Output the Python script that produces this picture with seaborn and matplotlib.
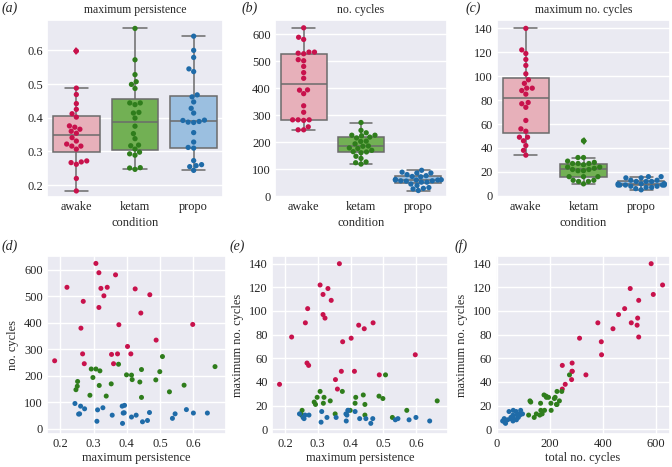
import matplotlib
matplotlib.use("Agg")
import matplotlib.pyplot as plt
import seaborn as sns
import pandas as pd

# ---- data ----
conditions = ["awake", "ketam", "propo"]

awake_mp = [0.183, 0.220, 0.262, 0.267, 0.269, 0.272, 0.307, 0.316, 0.316, 0.322, 0.331, 0.341,
            0.354, 0.360, 0.366, 0.372, 0.376, 0.402, 0.412, 0.425, 0.442, 0.469, 0.488, 0.598]
awake_nc = [257, 534, 380, 283, 481, 246, 624, 589, 458, 530, 502, 534,
            281, 246, 581, 283, 393, 311, 283, 528, 437, 506, 335, 394]
awake_mx = [38, 78, 90, 56, 102, 54, 122, 114, 97, 94, 119, 109,
            42, 34, 140, 49, 74, 77, 49, 88, 85, 90, 46, 63]

ketam_mp = [0.247, 0.251, 0.252, 0.289, 0.293, 0.298, 0.307, 0.317, 0.319, 0.338, 0.353, 0.375,
            0.399, 0.414, 0.416, 0.439, 0.444, 0.444, 0.487, 0.499, 0.507, 0.528, 0.572, 0.665]
ketam_nc = [148, 161, 179, 127, 226, 194, 226, 164, 219, 124, 170, 244,
            204, 203, 186, 177, 224, 119, 185, 216, 273, 140, 165, 235]
ketam_mx = [13, 12, 16, 23, 21, 27, 32, 22, 27, 24, 13, 32,
            16, 22, 27, 29, 21, 12, 28, 26, 46, 10, 16, 24]

propo_mp = [0.244, 0.255, 0.258, 0.261, 0.273, 0.310, 0.312, 0.328, 0.356, 0.386, 0.387, 0.389,
            0.392, 0.393, 0.414, 0.428, 0.447, 0.462, 0.468, 0.537, 0.545, 0.579, 0.600, 0.642]
propo_nc = [96, 56, 57, 86, 76, 29, 72, 80, 52, 86, 21, 60,
            61, 89, 45, 52, 27, 32, 62, 40, 57, 73, 60, 60]
propo_mx = [13, 10, 9, 12, 12, 6, 15, 10, 10, 13, 7, 12,
            16, 16, 15, 9, 9, 5, 9, 8, 9, 8, 10, 7]

box_colors = ["#F0A7B4", "#6CBF45", "#8FC0EC"]
point_colors = ["#C8124C", "#2F7D1C", "#1F6BA8"]

df = pd.DataFrame({
    "condition": ["awake"] * len(awake_mp) + ["ketam"] * len(ketam_mp) + ["propo"] * len(propo_mp),
    "mp": awake_mp + ketam_mp + propo_mp,
    "nc": awake_nc + ketam_nc + propo_nc,
    "mx": awake_mx + ketam_mx + propo_mx,
})

# ---- style ----
sns.set_theme(style="darkgrid")
plt.rcParams["font.family"] = ["Liberation Serif", "DejaVu Serif"]

FS = 8.9

fig = plt.figure(figsize=(6.72, 4.67), dpi=100)
W, H = 672, 467

def add_ax(l, t, r, b):
    return fig.add_axes([l / W, 1 - b / H, (r - l) / W, (b - t) / H])

ax_a = add_ax(47, 20, 223, 197)
ax_b = add_ax(275, 20, 447, 197)
ax_c = add_ax(497, 20, 670, 197)
ax_d = add_ax(47, 256, 226, 434)
ax_e = add_ax(272, 256, 448, 434)
ax_f = add_ax(496, 256, 670, 434)

top = [(ax_a, "mp", "maximum persistence", (0.165, 0.69), [0.2, 0.3, 0.4, 0.5, 0.6]),
       (ax_b, "nc", "no. cycles", (-3, 653), [0, 100, 200, 300, 400, 500, 600]),
       (ax_c, "mx", "maximum no. cycles", (-1, 147), [0, 20, 40, 60, 80, 100, 120, 140])]

for ax, col, title, ylim, yt in top:
    sns.boxplot(data=df, x="condition", y=col, hue="condition", order=conditions,
                hue_order=conditions, palette=box_colors, ax=ax, legend=False,
                linecolor="0.42", linewidth=1.1, width=0.8,
                flierprops=dict(marker="d", markersize=4.5, markeredgewidth=0))
    for ln in ax.lines:
        if ln.get_marker() == "d" and len(ln.get_xdata()) > 0:
            idx = int(round(float(ln.get_xdata()[0])))
            ln.set_markerfacecolor(point_colors[idx])
            ln.set_markeredgecolor(point_colors[idx])
    sns.swarmplot(data=df, x="condition", y=col, hue="condition", order=conditions,
                  hue_order=conditions, palette=point_colors, ax=ax, legend=False,
                  size=3.8, linewidth=0)
    ax.set_title(title, fontsize=FS - 0.4, pad=5)
    ax.set_ylim(*ylim)
    ax.set_yticks(yt)
    ax.set_xlabel("condition", fontsize=FS, labelpad=3)
    ax.set_ylabel("")
    ax.tick_params(labelsize=FS, pad=3, length=0)

pal = dict(zip(conditions, point_colors))
bottom = [(ax_d, "mp", "nc", "maximum persistence", "no. cycles", (0.16, 0.698), (-19, 652),
           [0.2, 0.3, 0.4, 0.5, 0.6], [0, 100, 200, 300, 400, 500, 600]),
          (ax_e, "mp", "mx", "maximum persistence", "maximum no. cycles", (0.16, 0.698), (-4, 146.5),
           [0.2, 0.3, 0.4, 0.5, 0.6], [0, 20, 40, 60, 80, 100, 120, 140]),
          (ax_f, "nc", "mx", "total no. cycles", "maximum no. cycles", (-4, 652), (-4, 146.5),
           [0, 200, 400, 600], [0, 20, 40, 60, 80, 100, 120, 140])]

for ax, xc, yc, xl, yl, xlim, ylim, xt, yt in bottom:
    sns.scatterplot(data=df, x=xc, y=yc, hue="condition", hue_order=conditions,
                    palette=pal, ax=ax, legend=False, s=13, linewidth=0)
    ax.set_xlim(*xlim)
    ax.set_ylim(*ylim)
    ax.set_xticks(xt)
    ax.set_yticks(yt)
    ax.set_xlabel(xl, fontsize=FS, labelpad=1.5)
    ax.set_ylabel(yl, fontsize=FS, labelpad=4)
    ax.tick_params(labelsize=FS, pad=3, length=0)

labels = [("(a)", 2, 8), ("(b)", 242, 8), ("(c)", 466, 8),
          ("(d)", 2, 246), ("(e)", 230, 246), ("(f)", 455, 246)]
for txt, x, y in labels:
    fig.text(x / W, 1 - y / H, txt, fontsize=10, style="italic", va="center", ha="left")

fig.savefig("out.png", dpi=100)
